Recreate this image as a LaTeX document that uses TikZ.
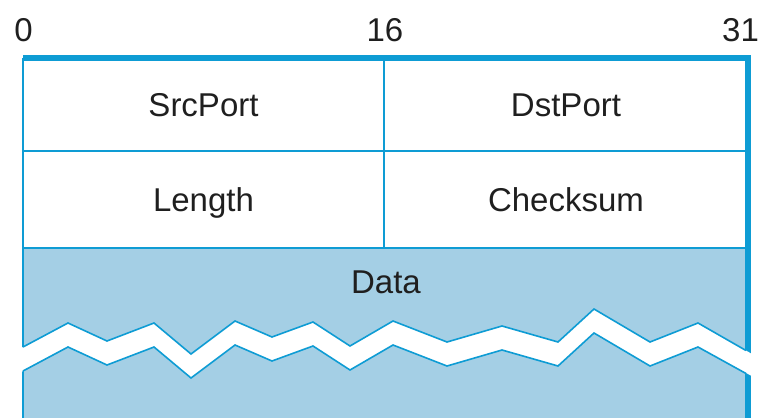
\documentclass[tikz,border=0pt]{standalone}
\usepackage{fontspec}
\setmainfont{Liberation Sans}
\definecolor{frameblue}{RGB}{14,156,212}
\definecolor{datafill}{RGB}{164,207,229}
\begin{document}
\begin{tikzpicture}[x=1pt,y=-1pt,
  lbl/.style={anchor=base,inner sep=0pt,font=\fontsize{33}{39}\selectfont,text=black!88},
  thinline/.style={draw=frameblue,line width=1.8pt},
  thickline/.style={draw=frameblue,line width=5.5pt,line join=miter},
  zig/.style={draw=frameblue,line width=1.6pt,line join=miter}]
\useasboundingbox (0,0) rectangle (763,418);
% frame coordinates
\coordinate (tl) at (23,58);
\coordinate (tr) at (748,58);
\coordinate (tm) at (384,58);
\coordinate (r1l) at (23,151);
\coordinate (r1r) at (748,151);
\coordinate (r2l) at (23,248);
\coordinate (r2m) at (384,248);
\coordinate (r2r) at (748,248);
\coordinate (bl) at (23,418);
\coordinate (br) at (748,418);
% data area
\fill[datafill] (r2l) rectangle (br);
% interior lines
\draw[thinline] (r1l) -- (r1r);
\draw[thinline] (r2l) -- (r2r);
\draw[thinline] (tm) -- (r2m);
\draw[thinline] (tl) -- (bl);
% thick top and right
\draw[thickline] (tl) -- (tr) -- (br);
% white break band
\fill[white] (20,348.6) -- (68,323) -- (107,341) -- (154,323) -- (191,354) -- (235,321) -- (272,337) -- (313,322) -- (350,346) -- (393,321) -- (447,342) -- (502,326) -- (558,342) -- (594,309) -- (650,342) -- (698,323) -- (760,358.6)
  -- (760,380.5) -- (698,347) -- (650,366) -- (594,333) -- (558,366) -- (502,350) -- (447,366) -- (393,345) -- (350,370) -- (313,346) -- (272,361) -- (235,345) -- (191,378) -- (154,347) -- (107,365) -- (68,347) -- (20,372.6) -- cycle;
\draw[zig] (23,347) -- (68,323) -- (107,341) -- (154,323) -- (191,354) -- (235,321) -- (272,337) -- (313,322) -- (350,346) -- (393,321) -- (447,342) -- (502,326) -- (558,342) -- (594,309) -- (650,342) -- (698,323) -- (746,350.5);
\draw[zig] (23,371) -- (68,347) -- (107,365) -- (154,347) -- (191,378) -- (235,345) -- (272,361) -- (313,346) -- (350,370) -- (393,345) -- (447,366) -- (502,350) -- (558,366) -- (594,333) -- (650,366) -- (698,347) -- (746,373.5);
% texts
\node[lbl] (srcport) at (203.5,116.5) {SrcPort};
\node[lbl] (dstport) at (566,116.5) {DstPort};
\node[lbl] (length) at (203.5,211.5) {Length};
\node[lbl] (checksum) at (566,211.5) {Checksum};
\node[lbl] (data) at (386,293) {Data};
\node[lbl] (l0) at (23.5,41) {0};
\node[lbl] (l16) at (385,41) {16};
\node[lbl] (l31) at (740.5,41) {31};
\end{tikzpicture}
\end{document}
